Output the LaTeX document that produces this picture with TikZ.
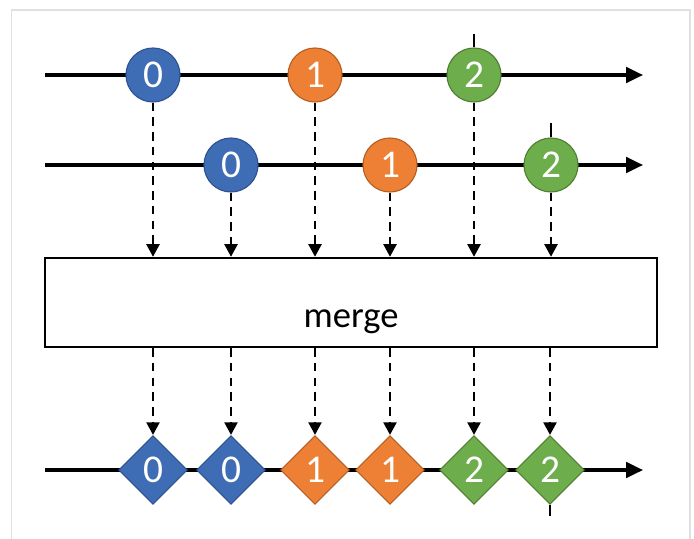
\documentclass[tikz,border=0pt]{standalone}
\usepackage{fontspec}
\setmainfont{Carlito}
\usetikzlibrary{arrows.meta,shapes.geometric}

\definecolor{evblue}{HTML}{3E6DB5}
\definecolor{evblueline}{HTML}{2F528F}
\definecolor{evorange}{HTML}{EE8035}
\definecolor{evorangeline}{HTML}{B55E22}
\definecolor{evgreen}{HTML}{6DAD4C}
\definecolor{evgreenline}{HTML}{507E32}

\begin{document}
\begin{tikzpicture}[x=0.025cm,y=-0.025cm,
            event/.style={circle,draw,line width=0.8pt,minimum size=1.35cm,inner sep=0,
              text=white,font=\fontsize{28}{28}\selectfont},
            merged/.style={diamond,draw,line width=0.8pt,minimum size=1.72cm,inner sep=0,
              text=white,font=\fontsize{28}{28}\selectfont},
            ev0/.style={fill=evblue,draw=evblueline},
            ev1/.style={fill=evorange,draw=evorangeline},
            ev2/.style={fill=evgreen,draw=evgreenline},
            timeline/.style={draw,line width=2.3pt,-{Triangle[length=12pt,width=11pt]}},
            tick/.style={draw,line width=2pt},
            flow/.style={draw,line width=2.1pt,dash pattern=on 6pt off 4.5pt,
              -{Triangle[length=9pt,width=9pt]}},
            operator/.style={draw,line width=1.7pt,minimum width=15.3cm,minimum height=2.22cm},
            oplabel/.style={font=\fontsize{26}{26}\selectfont}
          ]
          \useasboundingbox (0,0) rectangle (694,538);
          % frame
          \draw[black!12,line width=1pt] (11.5,545) -- (11.5,10) -- (690,10) -- (690,545);

          % time lines
          \coordinate (startA) at (45,75);
          \coordinate (endA) at (643,75);
          \coordinate (startB) at (45,165);
          \coordinate (endB) at (643,165);
          \coordinate (startC) at (45,470);
          \coordinate (endC) at (643,470);
          \path[timeline] (startA) -- (endA);
          \path[timeline] (startB) -- (endB);
          \path[timeline] (startC) -- (endC);

          % first stream
          \node[event,ev0] (a0) at (153,75) {0};
          \node[event,ev1] (a1) at (315,75) {1};
          \node[event,ev2] (a2) at (474,75) {2};

          % second stream
          \node[event,ev0] (b0) at (231,165) {0};
          \node[event,ev1] (b1) at (390,165) {1};
          \node[event,ev2] (b2) at (551,165) {2};

          % operator
          \node[operator] (m) at (351,302.5) {};
          \node[oplabel] (mlabel) at (351,322) {merge};

          % result
          \node[merged,ev0] (d0) at (153,470) {0};
          \node[merged,ev0] (d1) at (231,470) {0};
          \node[merged,ev1] (d2) at (315,470) {1};
          \node[merged,ev1] (d3) at (390,470) {1};
          \node[merged,ev2] (d4) at (474,470) {2};
          \node[merged,ev2] (d5) at (550,470) {2};

          % completion ticks
          \path[tick] (a2.north) -- ++(0,-13);
          \path[tick] (b2.north) -- ++(0,-14);
          \path[tick] (d5.south) -- ++(0,11);

          \path
          (a0.south) edge[flow] (a0.south |- m.north)
          (a1.south) edge[flow] (a1.south |- m.north)
          (a2.south) edge[flow] (a2.south |- m.north)
          (b0.south) edge[flow] (b0.south |- m.north)
          (b1.south) edge[flow] (b1.south |- m.north)
          (b2.south) edge[flow] (b2.south |- m.north)
          ;
          \path
          (m.south -| d0.north) edge[flow] (d0.north)
          (m.south -| d1.north) edge[flow] (d1.north)
          (m.south -| d2.north) edge[flow] (d2.north)
          (m.south -| d3.north) edge[flow] (d3.north)
          (m.south -| d4.north) edge[flow] (d4.north)
          (m.south -| d5.north) edge[flow] (d5.north)
          ;
      \end{tikzpicture}
\end{document}
